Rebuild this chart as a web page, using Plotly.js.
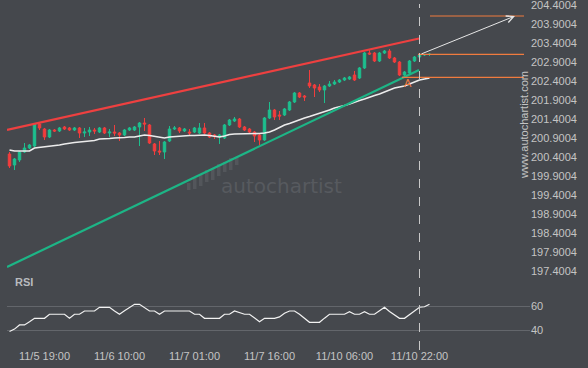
<!DOCTYPE html>
<html><head><meta charset="utf-8">
<script src="https://cdn.plot.ly/plotly-3.0.1.min.js"></script>
<style>html,body{margin:0;padding:0;background:#45484d;} #chart{width:588px;height:368px;}</style>
</head><body><div id="chart"></div>
<script>
// ---- data ----
const bars = [0,1,2,3,4,5,6,7,8,9,10,11,12,13,14,15,16,17,18,19,20,21,22,23,24,25,26,27,28,29,30,31,32,33,34,35,36,37,38,39,40,41,42,43,44,45,46,47,48,49,50,51,52,53,54,55,56,57,58,59,60,61,62,63,64,65,66,67,68,69,70,71,72,73,74,75,76,77,78,79,80,81,82,83,84];
const openP = [200.479,200.190,200.322,200.532,200.637,200.690,201.269,201.137,200.927,201.111,201.085,201.190,201.164,201.111,201.164,201.032,201.058,201.111,201.058,201.164,201.032,201.058,201.032,200.979,201.111,201.111,201.190,201.295,201.243,200.743,200.558,200.532,200.821,201.137,201.164,201.085,201.058,201.058,201.032,201.164,201.032,200.979,200.927,200.900,201.243,201.348,201.400,201.190,201.137,201.058,200.979,200.848,201.427,201.637,201.506,201.506,201.637,201.848,202.085,202.006,202.348,202.295,202.243,202.164,202.269,202.321,202.374,202.427,202.453,202.558,202.479,202.743,203.137,203.137,202.927,203.137,203.190,203.006,202.900,202.558,202.611,202.927,203.032,203.085,203.098];
const highP = [200.532,200.374,200.558,200.769,200.743,201.295,201.321,201.164,201.137,201.137,201.190,201.216,201.190,201.190,201.190,201.164,201.190,201.164,201.190,201.190,201.137,201.243,201.058,201.137,201.190,201.216,201.321,201.427,201.269,200.769,200.821,200.821,201.216,201.216,201.190,201.164,201.137,201.190,201.295,201.295,201.058,201.006,201.006,201.269,201.400,201.453,201.427,201.216,201.164,201.085,201.006,201.453,201.848,201.664,201.611,201.690,201.874,202.111,202.111,202.032,202.690,202.321,202.321,202.295,202.400,202.427,202.453,202.506,202.532,202.664,202.769,203.164,203.216,203.164,203.164,203.216,203.243,203.032,202.927,202.664,202.953,203.058,203.111,203.111,203.137];
const lowP = [200.111,200.058,200.269,200.506,200.611,200.664,201.111,200.848,200.900,201.058,201.058,201.111,201.085,201.085,200.900,200.927,200.953,201.006,201.032,201.006,200.927,200.953,200.821,200.953,201.085,201.085,200.690,201.085,200.743,200.453,200.453,200.348,200.795,201.111,201.032,201.058,200.953,201.032,201.006,201.006,200.900,200.874,200.743,200.874,201.216,201.321,201.164,201.085,201.032,200.795,200.716,200.821,201.400,201.374,201.374,201.479,201.611,201.821,201.953,201.874,202.216,201.979,202.111,201.821,202.243,202.295,202.348,202.400,202.427,202.400,202.453,202.716,203.085,202.900,202.900,203.111,202.979,202.874,202.532,202.479,202.585,202.900,203.006,203.058,203.058];
const closeP = [200.164,200.348,200.532,200.637,200.716,201.269,201.164,200.927,201.111,201.085,201.164,201.137,201.111,201.164,201.032,201.058,201.111,201.085,201.164,201.032,201.058,201.032,200.979,201.111,201.164,201.190,201.295,201.269,200.769,200.558,200.532,200.795,201.137,201.164,201.085,201.137,201.032,201.164,201.164,201.032,200.927,200.953,200.979,201.243,201.374,201.400,201.190,201.111,201.058,200.953,200.848,201.427,201.637,201.453,201.479,201.664,201.848,202.085,201.979,201.979,202.269,202.216,202.164,202.269,202.321,202.374,202.427,202.479,202.506,202.427,202.743,203.137,203.111,202.927,203.137,203.190,203.006,202.900,202.558,202.637,202.927,203.032,203.085,203.098,203.105];
const maP = [200.585,200.558,200.558,200.558,200.558,200.637,200.650,200.664,200.690,200.703,200.716,200.743,200.769,200.782,200.795,200.808,200.821,200.835,200.874,200.874,200.887,200.900,200.900,200.914,200.927,200.927,200.953,200.979,200.966,200.940,200.914,200.900,200.927,200.940,200.953,200.966,200.966,200.966,200.979,200.979,200.966,200.953,200.927,200.953,200.993,201.006,201.006,201.006,201.006,201.019,201.019,201.032,201.058,201.111,201.177,201.243,201.282,201.335,201.374,201.427,201.466,201.506,201.545,201.585,201.637,201.690,201.716,201.756,201.795,201.848,201.887,201.927,201.979,202.019,202.058,202.111,202.177,202.216,202.243,202.269,202.321,202.374,202.427,202.453,202.479];
const rsiV = [39,41,44.4,44.4,47,49.9,49.9,49.9,53.2,53.2,53.2,53.2,49.9,53.2,53.2,55.9,55.9,55.9,58.9,58.9,58.9,55.9,53.2,56,59,61.4,61.4,58.5,55.9,55.9,53.2,55.9,55.9,55.9,55.9,55.9,55.9,53.2,53.2,49.9,49.9,49.9,49.9,53.2,53.2,55.9,54.5,53.2,53.2,50.5,47.1,49.9,49.9,49.9,51,54,55.9,55.9,53.2,50,46.6,46.6,46.6,50,53.2,53.2,53.2,53.2,55.3,53.2,53.2,55.3,53.2,53.2,56,58.9,55.5,52.5,49.9,49.9,53,56.5,59,59.4,61.4];
const tickIdx = [7,22,37,52,67,82];
const tickLabels = ['11/5 19:00','11/6 10:00','11/7 01:00','11/7 16:00','11/10 06:00','11/10 22:00'];
const priceTicks = [204.4004,203.9004,203.4004,202.9004,202.4004,201.9004,201.4004,200.9004,200.4004,199.9004,199.4004,198.9004,198.4004,197.9004,197.4004];
const rsiTicks = [40,60];
const resistX = [-0.5,81.9], resistY = [201.111,203.519];
const supportX = [-0.5,81.9], supportY = [197.506,202.690];
const targetX = [84.1,102.9], targetY = [204.111,204.111];
const levelX = [81.7,102.9], levelY = [203.103,203.103];
const lowLevelX = [78.5,102.9], lowLevelY = [202.498,202.498];
const arrowFrom = [82.1,203.098], arrowTo = [101.1,204.111];
const patternEnd = 82;
const markA = [79.7,202.348];

// ---- style ----
const BG = '#45484d', TXT = '#c4c4c4', GREEN = '#1dbf8e', RED = '#f23d3d', ORANGE = '#f07b3f';
const W = 588, H = 368, ML = 7, MR = 58, MT = 0, MB = 23;
const PW = W-ML-MR, PH = H-MT-MB;
const px = x => (x-ML)/PW, py = y => (H-MB-y)/PH;

const traces = [
  {type:'candlestick', x:bars, open:openP, high:highP, low:lowP, close:closeP, xaxis:'x', yaxis:'y',
   increasing:{line:{color:GREEN,width:1}, fillcolor:GREEN},
   decreasing:{line:{color:RED,width:1}, fillcolor:RED}, hoverinfo:'skip'},
  {type:'scatter', mode:'lines', x:bars, y:maP, line:{color:'#ececec',width:1.6}, yaxis:'y', hoverinfo:'skip'},
  {type:'scatter', mode:'lines', x:resistX, y:resistY, line:{color:'#ee4040',width:2.2}, yaxis:'y', hoverinfo:'skip'},
  {type:'scatter', mode:'lines', x:supportX, y:supportY, line:{color:'#1db586',width:2.2}, yaxis:'y', hoverinfo:'skip'},
  {type:'scatter', mode:'lines', x:targetX, y:targetY, line:{color:ORANGE,width:1.2}, yaxis:'y', hoverinfo:'skip'},
  {type:'scatter', mode:'lines', x:levelX, y:levelY, line:{color:ORANGE,width:1.2}, yaxis:'y', hoverinfo:'skip'},
  {type:'scatter', mode:'lines', x:lowLevelX, y:lowLevelY, line:{color:ORANGE,width:1.2}, yaxis:'y', hoverinfo:'skip'},
  {type:'scatter', mode:'lines', x:bars, y:rsiV, line:{color:'#f2f2f2',width:1.2}, yaxis:'y2', hoverinfo:'skip'}
];

// watermark bar icon (decoration)
const wm = [[187,183,190],[193,178,189],[199,175,186],[205,170,182],[211,168,180],[217,164,176],[223,162,172],[229,158,170],[235,157,165]];
const shapes = wm.map(b => ({type:'rect', xref:'paper', yref:'paper', x0:px(b[0]), x1:px(b[0]+3.5), y0:py(b[2]), y1:py(b[1]), fillcolor:'#53565b', line:{width:0}, layer:'below'}));
shapes.push({type:'line', xref:'x', yref:'paper', x0:patternEnd, x1:patternEnd, y0:py(350), y1:py(4), line:{color:'#c8c8c8', width:1, dash:'dash'}});

const layout = {
  width:W, height:H, margin:{l:ML, r:MR, t:MT, b:MB, pad:0},
  paper_bgcolor:BG, plot_bgcolor:BG, showlegend:false,
  font:{family:'Liberation Sans, Arial, sans-serif', size:11, color:TXT},
  xaxis:{range:[-0.5,104.1], tickvals:tickIdx, ticktext:tickLabels, showgrid:false, zeroline:false, showline:false,
         ticks:'', anchor:'y2', rangeslider:{visible:false}, tickfont:{size:11,color:TXT}, fixedrange:true,
         ticklabelstandoff:3},
  yaxis:{domain:[py(280),1], range:[204.532-280*0.026316, 204.532], side:'right', tickvals:priceTicks,
         ticktext:priceTicks.map(v=>v.toFixed(4)), showgrid:false, zeroline:false, showline:false, ticks:'',
         tickfont:{size:11,color:TXT}, anchor:'x', fixedrange:true, ticklabeloverflow:'allow'},
  yaxis2:{domain:[0,py(285)], range:[27.9,77.3], side:'right', tickvals:rsiTicks, showgrid:true, gridcolor:'#63666b',
          gridwidth:1, zeroline:false, showline:false, ticks:'', tickfont:{size:11,color:TXT}, anchor:'x', fixedrange:true},
  shapes:shapes,
  annotations:[
    {text:'autochartist', xref:'paper', yref:'paper', x:px(281), y:py(186), showarrow:false,
     font:{family:'DejaVu Sans', size:20, color:'#575a5f'}},
    {text:'www.autochartist.com', xref:'paper', yref:'paper', x:px(532), y:py(69), textangle:-90, showarrow:false,
     font:{size:11, color:TXT}},
    {text:'<b>RSI</b>', xref:'paper', yref:'paper', x:px(13), y:py(290), xanchor:'left', showarrow:false,
     font:{size:11, color:'#b8bbbf'}},
    {text:'A', x:markA[0], y:markA[1], xref:'x', yref:'y', showarrow:false, font:{size:11, color:ORANGE}},
    {text:'', x:arrowTo[0], y:arrowTo[1], ax:arrowFrom[0], ay:arrowFrom[1], xref:'x', yref:'y', axref:'x', ayref:'y',
     showarrow:true, arrowhead:5, arrowsize:1.4, arrowwidth:1, arrowcolor:'#e6e6e6'}
  ]
};
Plotly.newPlot('chart', traces, layout, {staticPlot:true, displayModeBar:false});
</script></body></html>
